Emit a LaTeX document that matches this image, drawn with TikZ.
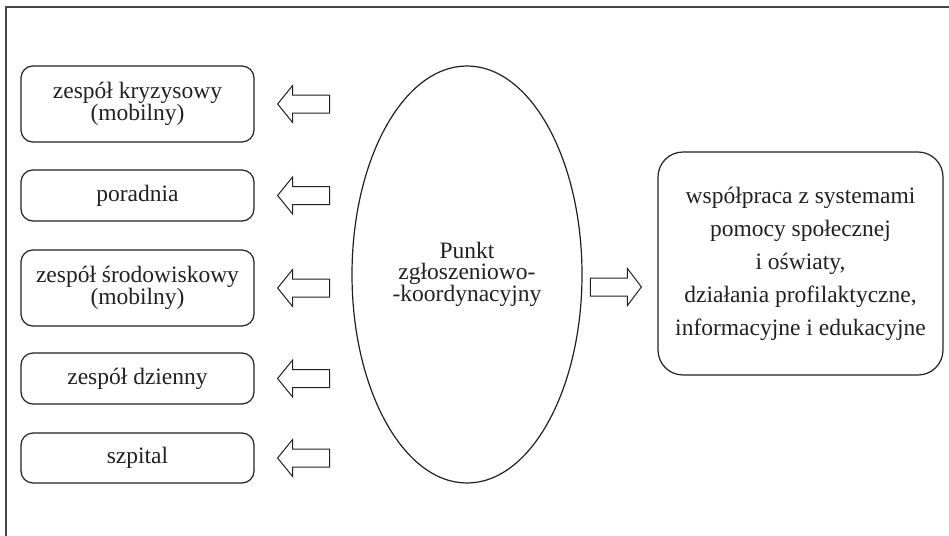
\documentclass[tikz,border=0pt]{standalone}
\usepackage{fontspec}
\setmainfont{Liberation Serif}
\usetikzlibrary{shapes.geometric,calc}
\definecolor{ink}{RGB}{35,31,32}
\definecolor{framegray}{RGB}{70,70,70}
\tikzset{
  unitbox/.style={draw=ink, line width=1.2pt, rounded corners=12pt,
    minimum width=233pt, inner sep=0pt, align=center, text=ink,
    font=\fontsize{23.5}{20}\selectfont},
  infobox/.style={draw=ink, line width=1.2pt, rounded corners=25pt,
    minimum width=285pt, minimum height=223pt, inner sep=0pt,
    align=center, text=ink, font=\fontsize{23.5}{33}\selectfont},
  hub/.style={draw=ink, line width=1.2pt, ellipse, minimum width=230pt,
    minimum height=417pt, inner sep=0pt, align=center, text=ink,
    font=\fontsize{23.5}{21}\selectfont},
  blockarrow/.style={draw=ink, line width=1pt, fill=white, line join=miter}
}
\begin{document}
\begin{tikzpicture}[x=1pt, y=-1pt]
  \useasboundingbox (0,0) rectangle (949,535);

  % page frame (top and left edges)
  \draw[framegray, line width=1.8pt] (6,540) -- (6,7) -- (955,7);

  % services on the left
  \node[unitbox, minimum height=76pt] (b1) at (137.5,104)   {zespół kryzysowy\\(mobilny)};
  \node[unitbox, minimum height=51pt] (b2) at (137.5,195.5) {poradnia};
  \node[unitbox, minimum height=76pt] (b3) at (137.5,288)   {zespół środowiskowy\\(mobilny)};
  \node[unitbox, minimum height=51pt] (b4) at (137.5,378.5) {zespół dzienny};
  \node[unitbox, minimum height=50pt] (b5) at (137.5,458)   {szpital};

  % central coordination point
  \node[hub] (pk) at (467,274.5) {Punkt\\zgłoszeniowo-\\-koordynacyjny};

  % cooperation box on the right
  \node[infobox] (rb) at (800.5,263.5)
    {współpraca z systemami\\pomocy społecznej\\i oświaty,\hspace*{0.8em}\\działania profilaktyczne,\\informacyjne i edukacyjne};

  % hollow arrows pointing to each service
  \foreach \b in {b1,b2,b3,b4,b5}{
    \draw[blockarrow] ([xshift=23pt]\b.east) -- ++(15,-18.5) -- ++(0,9.5)
      -- ++(37,0) -- ++(0,18) -- ++(-37,0) -- ++(0,9.5) -- cycle;
  }

  % hollow arrow towards the cooperation box
  \coordinate (rtip) at ($(rb.west)+(-16,23.5)$);
  \draw[blockarrow] (rtip) -- ++(-14,-18.5) -- ++(0,9.5)
    -- ++(-37,0) -- ++(0,18) -- ++(37,0) -- ++(0,9.5) -- cycle;
\end{tikzpicture}
\end{document}
